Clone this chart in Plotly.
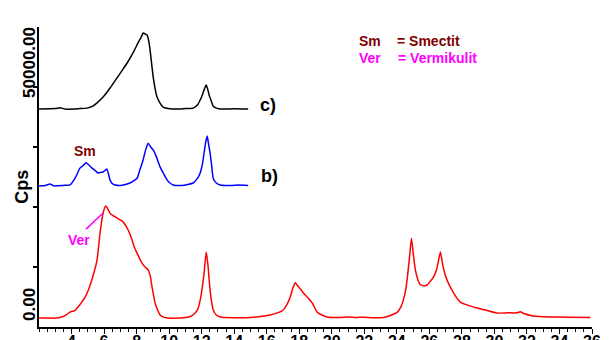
import plotly.graph_objects as go

# ---- data (2-theta, counts per second) ----
a_x = [2.0, 2.5, 3.0, 3.4, 3.7, 3.9, 4.2, 4.5, 4.8, 5.1, 5.35, 5.57, 5.75, 5.94, 6.1, 6.2, 6.37, 6.55, 6.8, 7.0,
       7.17, 7.35, 7.48, 7.65, 7.78, 7.9, 8.03, 8.22, 8.4, 8.52, 8.71, 8.85, 8.95, 9.05, 9.14, 9.3, 9.45, 9.7, 9.88,
       10.5, 11.0, 11.3, 11.5, 11.75, 11.91, 12.05, 12.15, 12.28, 12.4, 12.46, 12.6, 12.71, 12.9, 13.14, 14.0, 15.0,
       16.2, 16.7, 17.0, 17.25, 17.45, 17.6, 17.75, 17.9, 18.1, 18.25, 18.5, 18.8, 18.95, 19.1, 19.4, 19.7, 20.5,
       21.0, 21.5, 22.0, 22.5, 23.17, 23.6, 24.03, 24.25, 24.4, 24.55, 24.65, 24.78, 24.9, 25.02, 25.14, 25.3,
       25.45, 25.7, 25.88, 26.05, 26.25, 26.45, 26.68, 26.82, 26.98, 27.15, 27.29, 27.6, 27.9, 28.4, 28.95, 29.5,
       30.18, 30.8, 31.4, 31.6, 31.8, 32.4, 33.5, 34.5, 35.9]
a_y = [1850, 1900, 1850, 2100, 2600, 3100, 3400, 4600, 6000, 8300, 11000, 14000, 19500, 23700, 25200, 24800, 23700,
       23200, 22700, 22300, 21900, 21000, 20200, 18800, 17500, 16300, 15400, 14000, 13000, 12500, 11900, 10500, 8300,
       6500, 5000, 3500, 2500, 2000, 1900, 1850, 2000, 2200, 2600, 3600, 5600, 8500, 11300, 15600, 12500, 9800, 5500,
       3600, 2500, 2100, 1950, 2000, 2500, 3000, 3500, 4700, 6300, 8000, 9200, 8600, 7800, 7100, 6200, 5000, 4000,
       3100, 2500, 2100, 2000, 2100, 2000, 2050, 1950, 2000, 2400, 3100, 4200, 5600, 7800, 10400, 14500, 18500, 15000,
       11900, 9800, 8800, 8600, 8800, 9500, 10400, 12000, 15600, 13000, 10800, 9300, 8300, 6500, 5200, 4500, 3950,
       3500, 2900, 2950, 2950, 3200, 2800, 2300, 2100, 2050, 2000]

b_x = [2.0, 2.4, 2.68, 2.9, 3.5, 3.91, 4.22, 4.52, 4.7, 4.89, 5.05, 5.26, 5.45, 5.63, 5.8, 5.94, 6.08, 6.18, 6.3,
       6.37, 6.5, 6.68, 7.0, 7.42, 7.75, 8.03, 8.2, 8.4, 8.55, 8.71, 8.85, 9.02, 9.2, 9.45, 9.65, 9.88, 10.05, 10.25,
       10.8, 11.48, 11.75, 11.91, 12.05, 12.15, 12.25, 12.34, 12.43, 12.52, 12.62, 12.71, 12.9, 13.14, 13.8, 14.3, 14.86]
b_y = [29400, 29500, 29800, 29400, 29500, 29600, 31000, 33100, 33600, 34200, 33800, 33100, 32600, 32100, 32200,
       32300, 32700, 32900, 31500, 30600, 29900, 29600, 29500, 29800, 30300, 31000, 32700, 34800, 36800, 38300,
       37600, 36900, 35600, 33300, 32000, 30600, 30000, 29600, 29500, 30000, 31000, 32100, 34000, 36300, 38500,
       39800, 38000, 36200, 33500, 31000, 30000, 29600, 29500, 29600, 29500]

c_x = [2.0, 3.0, 3.3, 3.6, 4.5, 4.95, 5.3, 5.57, 5.94, 6.37, 6.8, 7.1, 7.42, 7.78, 8.09, 8.3, 8.4, 8.55, 8.65, 8.75,
       8.83, 8.92, 9.02, 9.14, 9.26, 9.45, 9.63, 10.25, 11.0, 11.48, 11.75, 11.91, 12.05, 12.15, 12.28, 12.4, 12.46,
       12.6, 12.71, 12.9, 13.14, 14.0, 14.86]
c_y = [45400, 45500, 45700, 45400, 45500, 45600, 46000, 46700, 47900, 49800, 51900, 53400, 55000, 57100, 59200,
       60500, 61250, 61000, 60800, 59500, 57700, 55000, 52100, 49600, 47900, 46600, 45800, 45400, 45500, 45600,
       46300, 47300, 48400, 49400, 50400, 49200, 48300, 47000, 46000, 45600, 45400, 45450, 45400]

x_ticks = list(range(4, 37, 2))
y_ticks = [12500, 25000, 37500, 50000]
y_label_vals = [4170, 54580]
y_label_text = ["0.00", "50000.00"]

FONT = "Liberation Sans, Arial, sans-serif"

fig = go.Figure()
line_shape = dict(shape="spline", smoothing=0.5)
fig.add_trace(go.Scatter(x=a_x, y=a_y, mode="lines", line=dict(color="#ff0000", width=1.5, **line_shape), showlegend=False))
fig.add_trace(go.Scatter(x=b_x, y=b_y, mode="lines", line=dict(color="#0000ff", width=1.5, **line_shape), showlegend=False))
fig.add_trace(go.Scatter(x=c_x, y=c_y, mode="lines", line=dict(color="#000000", width=1.5, **line_shape), showlegend=False))
# invisible trace to drive secondary label axis
fig.add_trace(go.Scatter(x=[2], y=[0], yaxis="y2", mode="markers", marker=dict(opacity=0),
                         showlegend=False, hoverinfo="skip"))

fig.update_layout(
    width=613, height=340,
    margin=dict(l=39, r=21, t=27, b=13, autoexpand=False),
    paper_bgcolor="white", plot_bgcolor="white",
    font=dict(family=FONT, color="black"),
    xaxis=dict(range=[2, 36], tickvals=x_ticks, ticktext=["<b>%d</b>" % v for v in x_ticks],
               ticks="outside", ticklen=5, tickwidth=1.2, tickcolor="black", ticklabelstandoff=-6,
               minor=dict(dtick=0.5, tick0=0, ticks="outside", ticklen=3, tickwidth=1, tickcolor="black"),
               showline=True, linecolor="black", linewidth=1.5, showgrid=False, zeroline=False,
               tickfont=dict(size=16, family=FONT), automargin=False),
    yaxis=dict(range=[0, 62500], tickvals=y_ticks, showticklabels=False,
               ticks="outside", ticklen=4, tickwidth=1.5, tickcolor="black",
               showline=True, linecolor="black", linewidth=1.5, showgrid=False, zeroline=False,
               automargin=False),
    yaxis2=dict(range=[0, 62500], overlaying="y", side="left", tickvals=y_label_vals,
                ticktext=["<b>%s</b>" % t for t in y_label_text],
                tickangle=-90, ticks="", showline=False, showgrid=False, zeroline=False,
                tickfont=dict(size=17, family=FONT), automargin=False),
)

ann = [
    dict(x=-0.031, y=0.467, xref="paper", yref="paper", xanchor="center", yanchor="middle",
         text="<b>Cps</b>", textangle=-90, font=dict(size=18), showarrow=False),
    dict(x=4.83, y=36700, text="<b>Sm</b>", font=dict(size=14, color="#800000"), showarrow=False),
    dict(x=4.46, y=18100, text="<b>Ver</b>", font=dict(size=14, color="#ff00ff"), showarrow=False),
    dict(x=36.9, y=3100, text="<b>a)</b>", font=dict(size=18), showarrow=False),
    dict(x=16.15, y=31450, text="<b>b)</b>", font=dict(size=18), showarrow=False),
    dict(x=16.1, y=46250, text="<b>c)</b>", font=dict(size=18), showarrow=False),
    dict(x=0.5756, y=0.987, xref="paper", yref="paper", xanchor="left", text="<b>Sm</b>",
         font=dict(size=14, color="#800000"), showarrow=False),
    dict(x=0.6444, y=0.987, xref="paper", yref="paper", xanchor="left", text="<b>= Smectit</b>",
         font=dict(size=14, color="#800000"), showarrow=False),
    dict(x=0.5756, y=0.93, xref="paper", yref="paper", xanchor="left", text="<b>Ver</b>",
         font=dict(size=14, color="#ff00ff"), showarrow=False),
    dict(x=0.646, y=0.93, xref="paper", yref="paper", xanchor="left", text="<b>= Vermikulit</b>",
         font=dict(size=14, color="#ff00ff"), showarrow=False),
]
fig.update_layout(annotations=ann)
fig.add_shape(type="line", x0=4.89, y0=20400, x1=5.94, y1=23750, line=dict(color="#ff00ff", width=1.5))

fig.write_html("out.html", config={"displayModeBar": False},
               post_script="document.body.style.margin='0';document.body.style.overflow='hidden';")
